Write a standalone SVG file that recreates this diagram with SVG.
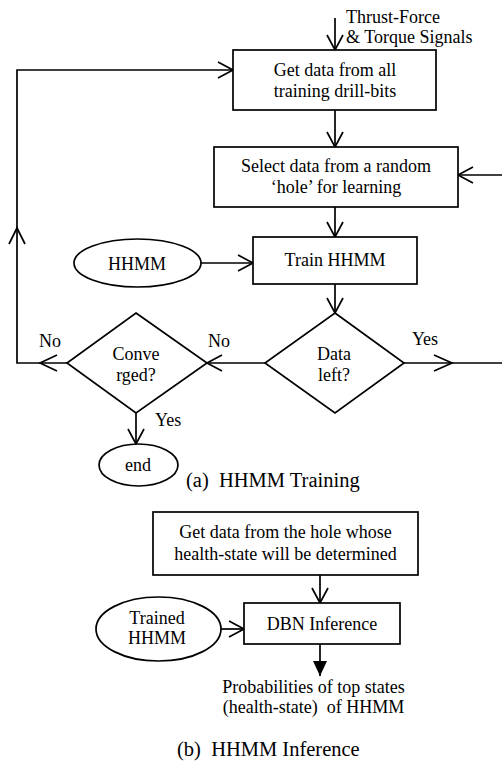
<svg xmlns="http://www.w3.org/2000/svg" width="502" height="762" viewBox="0 0 502 762">
<style>
  .box { fill: #fff; stroke: #000; stroke-width: 1.7; }
  .ln { fill: none; stroke: #000; stroke-width: 1.7; }
  .t { font-family: "Liberation Serif", "Times New Roman", serif; font-size: 18px; fill: #000; text-anchor: middle; }
  .ts { font-family: "Liberation Serif", "Times New Roman", serif; font-size: 18px; fill: #000; }
  .cap { font-family: "Liberation Serif", "Times New Roman", serif; font-size: 20.5px; fill: #000; }
</style>
<defs>
  <marker id="open" markerUnits="userSpaceOnUse" markerWidth="18" markerHeight="20" viewBox="0 0 18 20" refX="16" refY="9" orient="auto">
    <path d="M1,1 L16,9 L1,17" fill="none" stroke="#000" stroke-width="1.7"/>
  </marker>
  <marker id="solid" markerUnits="userSpaceOnUse" markerWidth="16" markerHeight="16" viewBox="0 0 16 16" refX="15" refY="7" orient="auto">
    <path d="M0,0 L15,7 L0,14 z" fill="#000"/>
  </marker>
</defs>

<g id="connectors">
  <path class="ln" d="M335,18 L335,50" marker-end="url(#open)"/>
  <path class="ln" d="M335,110 L335,147" marker-end="url(#open)"/>
  <path class="ln" d="M335,207 L335,237" marker-end="url(#open)"/>
  <path class="ln" d="M502,175 L458,175" marker-end="url(#open)"/>
  <path class="ln" d="M201,263 L253,263" marker-end="url(#open)"/>
  <path class="ln" d="M335,284 L335,313" marker-end="url(#open)"/>
  <path class="ln" d="M404,363 L502,363"/>
  <path class="ln" d="M434,355 L452,363 L434,371"/>
  <path class="ln" d="M265,363 L207,363" marker-end="url(#open)"/>
  <path class="ln" d="M67,363 L17,363 L17,70 L233,70" marker-end="url(#open)"/>
  <path class="ln" d="M57,355 L40,363 L57,371"/>
  <path class="ln" d="M9,244 L17,228 L25,244"/>
  <path class="ln" d="M136,413 L136,444" marker-end="url(#open)"/>
  <path class="ln" d="M320,575 L320,603" marker-end="url(#open)"/>
  <path class="ln" d="M221,629 L244,629" marker-end="url(#open)"/>
  <path class="ln" d="M320,644 L320,676" marker-end="url(#solid)"/>
</g>

<g id="input-label">
  <text class="ts" x="346" y="23">Thrust-Force</text>
  <text class="ts" x="346" y="43">&amp; Torque Signals</text>
</g>

<g id="get-data">
  <rect class="box" x="233" y="50" width="203" height="60"/>
  <text class="t" x="335" y="76">Get data from all</text>
  <text class="t" x="335" y="97">training drill-bits</text>
</g>

<g id="select-data">
  <rect class="box" x="214" y="147" width="244" height="60"/>
  <text class="t" x="336" y="172">Select data from a random</text>
  <text class="t" x="336" y="193">‘hole’ for learning</text>
</g>

<g id="hhmm">
  <ellipse class="box" cx="137.5" cy="263" rx="63.5" ry="24"/>
  <text class="t" x="137" y="270">HHMM</text>
</g>

<g id="train">
  <rect class="box" x="253" y="237" width="164" height="47"/>
  <text class="t" x="335" y="266">Train HHMM</text>
</g>

<g id="data-left">
  <polygon class="box" points="335,313 404,363 335,413 265,363"/>
  <text class="t" x="334" y="360">Data</text>
  <text class="t" x="334" y="381">left?</text>
</g>

<g id="converged">
  <polygon class="box" points="136,313 207,363 136,413 67,363"/>
  <text class="t" x="136" y="360">Conve</text>
  <text class="t" x="136" y="381">rged?</text>
</g>

<g id="labels">
  <text class="t" x="50" y="347">No</text>
  <text class="t" x="219" y="347">No</text>
  <text class="t" x="425" y="345">Yes</text>
  <text class="ts" x="155" y="426">Yes</text>
</g>

<g id="end">
  <ellipse class="box" cx="138.5" cy="465" rx="39.5" ry="21"/>
  <text class="t" x="138" y="471">end</text>
</g>

<text class="cap" x="186" y="487" xml:space="preserve">(a)  HHMM Training</text>

<g id="get-hole">
  <rect class="box" x="153" y="512" width="265" height="63"/>
  <text class="t" x="285.5" y="538">Get data from the hole whose</text>
  <text class="t" x="285.5" y="560">health-state will be determined</text>
</g>

<g id="trained-hhmm">
  <ellipse class="box" cx="158.5" cy="629" rx="62.5" ry="32"/>
  <text class="t" x="157" y="624">Trained</text>
  <text class="t" x="157" y="644">HHMM</text>
</g>

<g id="dbn">
  <rect class="box" x="244" y="603" width="156" height="41"/>
  <text class="t" x="322" y="630">DBN Inference</text>
</g>

<g id="output">
  <text class="t" x="313.5" y="693">Probabilities of top states</text>
  <text class="t" x="313.5" y="713" xml:space="preserve">(health-state)  of HHMM</text>
</g>

<text class="cap" x="177" y="756" xml:space="preserve">(b)  HHMM Inference</text>
</svg>
